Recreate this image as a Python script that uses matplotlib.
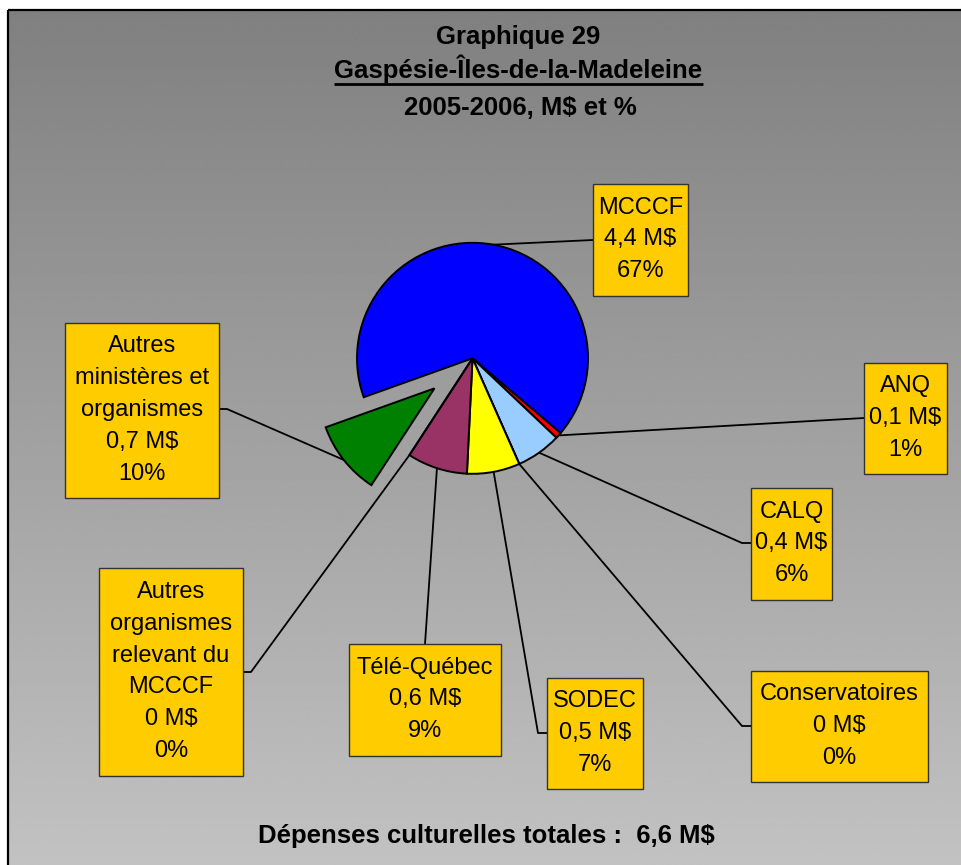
import numpy as np
import matplotlib
matplotlib.use("Agg")
import matplotlib.pyplot as plt
from matplotlib.patches import Rectangle

# ---------------- data ----------------
names = ["MCCCF", "ANQ", "CALQ", "Conservatoires", "SODEC", "Télé-Québec",
         "Autres organismes relevant du MCCCF", "Autres ministères et organismes"]
values = [4.40, 0.057, 0.416, 0.0, 0.488, 0.556, 0.0, 0.682]   # M$
amount_labels = ["4,4 M$", "0,1 M$", "0,4 M$", "0 M$", "0,5 M$", "0,6 M$", "0 M$", "0,7 M$"]
pct_labels = ["67%", "1%", "6%", "0%", "7%", "9%", "0%", "10%"]
name_lines = [["MCCCF"], ["ANQ"], ["CALQ"], ["Conservatoires"], ["SODEC"], ["Télé-Québec"],
              ["Autres", "organismes", "relevant du", "MCCCF"],
              ["Autres", "ministères et", "organismes"]]
colors = ["#0000FF", "#FF0000", "#99CCFF", "#FFFFFF", "#FFFF00", "#993366", "#FFFFFF", "#008000"]
explode_frac = [0, 0, 0, 0, 0, 0, 0, 0.42]
title_lines = ["Graphique 29", "Gaspésie-Îles-de-la-Madeleine", "2005-2006, M$ et %"]
total_text = "Dépenses culturelles totales :  6,6 M$"

# ---------------- layout (image pixel coords, y downward) ----------------
W, H = 962, 865
def Y(y):
    return H - y

R = 115.5
boxes = [(593, 184, 688, 296), (864, 363, 947, 474), (751, 488, 832, 600),
         (751, 671, 928, 782), (547, 678, 643, 789), (349, 644, 501, 756),
         (99, 568, 243, 776), (65, 323, 219, 498)]
anchors = [[(593, 240)], [(864, 418)], [(742, 543), (751, 543)],
           [(742, 726), (751, 726)], [(538, 733), (547, 733)], [(425, 644)],
           [(251, 672), (243, 672)], [(227, 409), (219, 409)]]

plt.rcParams["font.family"] = ["Liberation Sans", "DejaVu Sans"]

fig = plt.figure(figsize=(9.62, 8.65), dpi=100)
fig.patch.set_facecolor("white")
ax = fig.add_axes([0, 0, 1, 1])

# gradient background
grad = np.linspace(128, 194, 300)[:, None]
ax.imshow(grad, extent=(8, W, 0, Y(10)), cmap="gray", vmin=0, vmax=255,
          aspect="auto", zorder=0, interpolation="bilinear")
ax.plot([8, 8], [0, Y(10)], color="black", lw=1.6, zorder=1, solid_capstyle="butt")
ax.plot([8, W], [Y(10), Y(10)], color="black", lw=1.6, zorder=1, solid_capstyle="butt")

# pie (matplotlib's explode is in data units -> scale by radius)
wedges, _ = ax.pie(values, colors=colors, explode=[e * R for e in explode_frac],
                   startangle=199.7, counterclock=False, radius=R,
                   center=(472.5, Y(358.3)),
                   wedgeprops=dict(edgecolor="black", linewidth=1.4), normalize=True)
for w in wedges:
    w.set_zorder(3)

ax.set_xlim(0, W)
ax.set_ylim(0, H)
ax.set_aspect("equal")
ax.axis("off")

# leader lines + label boxes
for i, w in enumerate(wedges):
    th = np.deg2rad((w.theta1 + w.theta2) / 2.0)
    cx, cy = w.center
    px, py = cx + w.r * np.cos(th), cy + w.r * np.sin(th)
    xs = [px] + [a[0] for a in anchors[i]]
    ys = [py] + [Y(a[1]) for a in anchors[i]]
    ax.plot(xs, ys, color="black", lw=1.3, zorder=2)

    x0, y0, x1, y1 = boxes[i]
    ax.add_patch(Rectangle((x0, Y(y1)), x1 - x0, y1 - y0, facecolor="#FFCC00",
                           edgecolor="#333333", lw=1.0, zorder=4))
    lines = name_lines[i] + [amount_labels[i], pct_labels[i]]
    n = len(lines)
    pitch = 31.8
    bcx = (x0 + x1) / 2.0
    bcy = (y0 + y1) / 2.0
    for k, s in enumerate(lines):
        base = bcy + (k - (n - 1) / 2.0) * pitch + 5.5
        ax.text(bcx, Y(base), s, ha="center", va="baseline", fontsize=17,
                color="black", zorder=5)

# titles
t1 = ax.text(518.5, Y(44), title_lines[0], ha="center", va="baseline",
             fontsize=18.5, fontweight="bold", zorder=5)
t2 = ax.text(518.5, Y(78), title_lines[1], ha="center", va="baseline",
             fontsize=18.5, fontweight="bold", zorder=5)
t3 = ax.text(520, Y(115), title_lines[2], ha="center", va="baseline",
             fontsize=18.5, fontweight="bold", zorder=5)
ax.text(486.5, Y(843), total_text, ha="center", va="baseline",
        fontsize=18.5, fontweight="bold", zorder=5)

# underline second title line
fig.canvas.draw()
bb = t2.get_window_extent(renderer=fig.canvas.get_renderer())
inv = ax.transData.inverted()
(ux0, _), (ux1, _) = inv.transform([(bb.x0, bb.y0), (bb.x1, bb.y0)])
ax.plot([ux0, ux1], [Y(84), Y(84)], color="black", lw=2.0, zorder=5,
        solid_capstyle="butt")

fig.savefig("out.png", dpi=100, facecolor="white")
